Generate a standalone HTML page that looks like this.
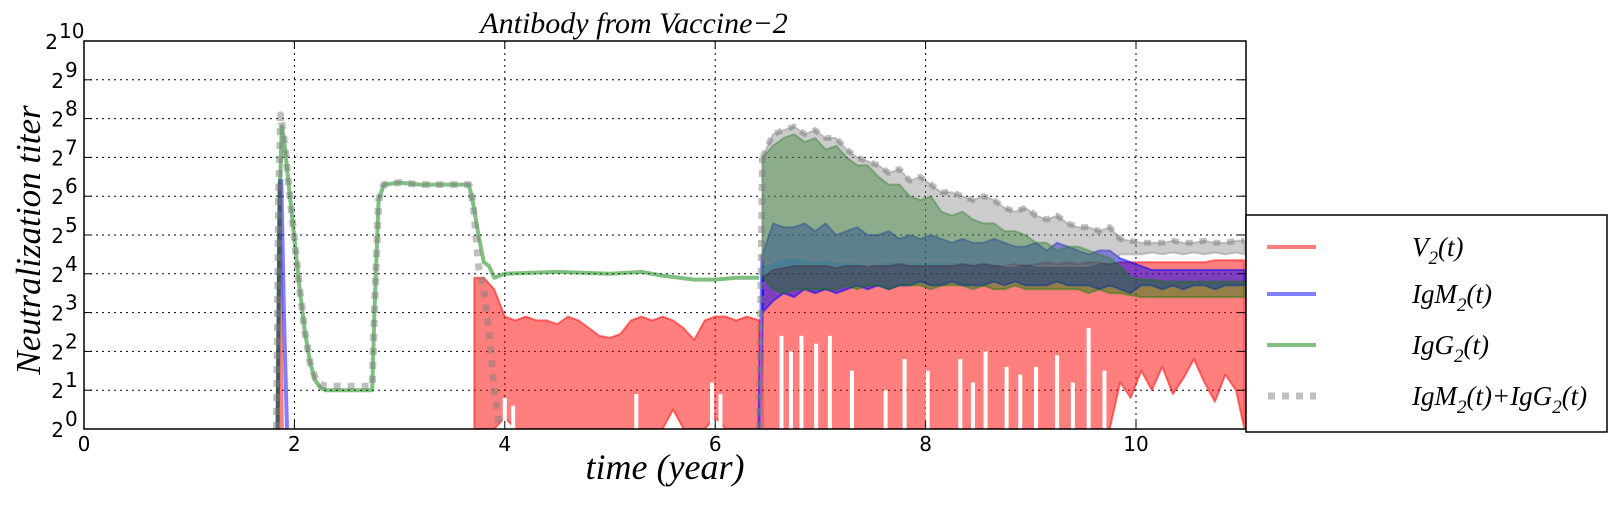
<!DOCTYPE html>
<html><head><meta charset="utf-8"><style>
body{margin:0;background:#fff}
svg text{font-family:"Liberation Serif",serif}
.tk{font-family:"DejaVu Sans","Liberation Sans",sans-serif;font-size:20px}
</style></head><body>
<svg id="chart" width="1612" height="505" viewBox="0 0 1612 505" xmlns="http://www.w3.org/2000/svg">
<defs><clipPath id="pc"><rect x="84" y="41" width="1162" height="388"/></clipPath></defs>
<rect x="0" y="0" width="1612" height="505" fill="#fff"/>
<g id="grid"></g>
<g id="marks" clip-path="url(#pc)"></g>
<rect x="84" y="41" width="1162" height="388" fill="none" stroke="#000" stroke-width="1.5"/>
<g id="ticks"></g>
<text x="634" y="33" text-anchor="middle" font-size="30" font-style="italic">Antibody from Vaccine−2</text>
<text x="665" y="479" text-anchor="middle" font-size="36" font-style="italic">time (year)</text>
<text transform="translate(40,240) rotate(-90)" text-anchor="middle" font-size="35" font-style="italic">Neutralization  titer</text>
<g>
<rect x="1246" y="215" width="361" height="217" fill="#fff" stroke="#000" stroke-width="1.5"/>
<line x1="1267" y1="247" x2="1316" y2="247" stroke="#ff0000" stroke-opacity="0.5" stroke-width="4"/>
<line x1="1267" y1="294" x2="1316" y2="294" stroke="#0000ff" stroke-opacity="0.5" stroke-width="4"/>
<line x1="1267" y1="345" x2="1316" y2="345" stroke="#008000" stroke-opacity="0.5" stroke-width="4"/>
<line x1="1268" y1="396" x2="1316" y2="396" stroke="#808080" stroke-opacity="0.5" stroke-width="7" stroke-dasharray="7,7"/>
<text x="1412" y="256" font-size="27" font-style="italic">V<tspan font-size="19" dy="8">2</tspan><tspan dy="-8">(t)</tspan></text>
<text x="1412" y="303" font-size="27" font-style="italic">IgM<tspan font-size="19" dy="8">2</tspan><tspan dy="-8">(t)</tspan></text>
<text x="1412" y="354" font-size="27" font-style="italic">IgG<tspan font-size="19" dy="8">2</tspan><tspan dy="-8">(t)</tspan></text>
<text x="1412" y="405" font-size="27" font-style="italic">IgM<tspan font-size="19" dy="8">2</tspan><tspan dy="-8">(t)+IgG</tspan><tspan font-size="19" dy="8">2</tspan><tspan dy="-8">(t)</tspan></text>
</g>
</svg>
<script>
const xTicks=[0,2,4,6,8,10];
const yTicks=[0,1,2,3,4,5,6,7,8,9,10];
// early smooth parts
const redSpikeT=[1.84,1.86,1.87,1.88];
const redSpikeV=[0,6.3,3,0];
const blueSpikeT=[1.84,1.86,1.875,1.9,1.93];
const blueSpikeV=[0,6.4,6.4,3,0];
const greenT=[1.84,1.86,1.88,1.9,1.95,2.0,2.05,2.1,2.15,2.2,2.25,2.3,2.5,2.74,2.76,2.8,2.85,3.0,3.2,3.5,3.66,3.7,3.75,3.8,3.85,3.9,4.0,4.5,5.0,5.3,5.5,5.8,6.0,6.2,6.42];
const greenV=[0,6,7.8,7.5,6.2,4.9,3.6,2.5,1.7,1.25,1.05,1.0,1.0,1.0,3.0,5.9,6.3,6.35,6.3,6.3,6.3,5.8,5.0,4.3,4.2,3.9,4.0,4.05,4.0,4.05,3.95,3.85,3.85,3.9,3.9];
const grayT=[1.83,1.85,1.87,1.9,1.95,2.0,2.05,2.1,2.15,2.2,2.25,2.3,2.5,2.74,2.76,2.8,2.85,3.0,3.2,3.5,3.66,3.7,3.75,3.8,3.85,3.9,3.95];
const grayV=[0,6,8.1,7.5,6.2,4.9,3.6,2.5,1.7,1.3,1.15,1.1,1.1,1.1,3.0,5.9,6.3,6.35,6.3,6.3,6.3,5.8,4.2,3.6,2.5,1.0,0];
// red band 1
const red1T=[3.71,3.8,3.9,4.0,4.1,4.2,4.3,4.4,4.5,4.6,4.7,4.8,4.9,5.0,5.1,5.2,5.3,5.4,5.5,5.6,5.7,5.8,5.9,6.0,6.1,6.2,6.3,6.42];
const red1Up=[3.9,3.9,3.6,2.9,2.8,2.9,2.8,2.8,2.7,2.9,2.8,2.6,2.4,2.35,2.45,2.8,2.9,2.8,2.9,2.8,2.6,2.3,2.8,2.9,2.9,2.8,2.9,2.8];
const red1Lo=[0,0,0,0.3,0,0,0,0,0,0,0,0,0,0,0,0,0,0,0,0.5,0,0,0,0.3,0,0,0,0];
// noisy period
const tN=[6.45,6.55,6.65,6.75,6.85,6.95,7.05,7.15,7.25,7.35,7.45,7.55,7.65,7.75,7.85,7.95,8.05,8.15,8.25,8.35,8.45,8.55,8.65,8.75,8.85,8.95,9.05,9.15,9.25,9.35,9.45,9.55,9.65,9.75,9.85,9.95,10.05,10.15,10.25,10.35,10.45,10.55,10.65,10.75,10.85,10.95,11.03];
const redUp=[3.9,4.1,4.15,4.2,4.2,4.2,4.2,4.15,4.2,4.2,4.2,4.2,4.2,4.25,4.2,4.2,4.2,4.2,4.2,4.25,4.2,4.25,4.2,4.2,4.25,4.2,4.25,4.3,4.25,4.3,4.25,4.3,4.3,4.25,4.3,4.3,4.3,4.3,4.3,4.3,4.3,4.3,4.3,4.35,4.35,4.35,4.35];
const redLo=[0,0,0,0,0,0,0,0,0,0,0,0,0,0,0,0,0,0,0,0,0,0,0,0,0,0,0,0,0,0,0,0,0,0,1.2,0.8,1.5,1.0,1.6,0.9,1.3,1.8,1.2,0.7,1.4,1.0,0];
const redGapT=[4.0,4.08,5.25,5.97,6.05,6.63,6.72,6.82,6.96,7.09,7.3,7.62,7.8,8.02,8.33,8.45,8.57,8.77,8.9,9.05,9.25,9.4,9.55,9.7];
const redGapTop=[0.8,0.6,0.9,1.2,0.9,2.4,2.0,2.4,2.2,2.4,1.5,1.0,1.8,1.5,1.8,1.2,2.0,1.6,1.4,1.6,1.9,1.2,2.6,1.5];
const blueUp=[4.5,5.3,5.2,5.2,5.3,5.1,5.3,5.0,5.1,5.2,5.0,5.0,5.1,4.9,5.0,4.9,5.0,4.9,4.8,4.9,4.8,4.8,4.9,4.8,4.7,4.7,4.8,4.6,4.8,4.7,4.6,4.5,4.6,4.6,4.4,4.3,4.2,4.1,4.1,4.1,4.1,4.1,4.1,4.1,4.1,4.1,4.1];
const blueLo=[3.0,3.3,3.5,3.4,3.6,3.5,3.6,3.5,3.6,3.7,3.6,3.7,3.6,3.7,3.7,3.8,3.7,3.7,3.8,3.7,3.7,3.7,3.8,3.7,3.8,3.7,3.7,3.7,3.8,3.7,3.7,3.7,3.6,3.7,3.6,3.5,3.7,3.7,3.6,3.7,3.6,3.7,3.7,3.6,3.7,3.7,3.7];
const greenUp=[7.0,7.3,7.5,7.6,7.4,7.5,7.2,7.3,7.0,6.8,6.8,6.5,6.3,6.3,6.0,5.9,6.0,5.6,5.5,5.6,5.4,5.3,5.3,5.1,5.1,5.0,4.8,4.8,4.6,4.7,4.7,4.6,4.5,4.4,4.2,3.9,3.85,3.85,3.8,3.8,3.8,3.8,3.8,3.8,3.8,3.8,3.8];
const greenLo=[3.9,3.6,3.5,3.6,3.6,3.6,3.6,3.6,3.7,3.6,3.7,3.7,3.6,3.7,3.7,3.7,3.6,3.7,3.7,3.7,3.6,3.7,3.6,3.6,3.7,3.6,3.6,3.6,3.6,3.6,3.6,3.5,3.6,3.5,3.5,3.45,3.4,3.4,3.4,3.4,3.4,3.4,3.4,3.4,3.4,3.4,3.4];
const grayUp=[7.0,7.6,7.7,7.8,7.6,7.7,7.5,7.5,7.2,7.0,6.9,6.8,6.6,6.7,6.4,6.5,6.3,6.1,6.1,6.0,5.9,6.0,5.9,5.7,5.6,5.7,5.5,5.4,5.5,5.3,5.2,5.2,5.1,5.2,4.9,4.85,4.8,4.8,4.8,4.85,4.8,4.8,4.85,4.8,4.8,4.85,4.85];
const grayLo=[4.2,4.3,4.4,4.4,4.4,4.3,4.4,4.3,4.3,4.3,4.2,4.3,4.3,4.3,4.3,4.3,4.3,4.3,4.3,4.3,4.3,4.3,4.3,4.2,4.2,4.3,4.2,4.2,4.2,4.2,4.2,4.2,4.3,4.3,4.5,4.5,4.5,4.55,4.5,4.55,4.5,4.55,4.5,4.55,4.5,4.55,4.5];

const NS='http://www.w3.org/2000/svg';
const X=t=>84+t*105.2;
const Y=v=>429-v*38.8;
function mk(tag,parent,attrs){const e=document.createElementNS(NS,tag);for(const k in attrs)e.setAttribute(k,attrs[k]);parent.appendChild(e);return e;}
const grid=document.getElementById('grid'),marks=document.getElementById('marks'),ticks=document.getElementById('ticks');

xTicks.forEach(t=>{
  if(t>0){const g=mk('line',grid,{x1:X(t),x2:X(t),y1:41,y2:429,stroke:'#000','stroke-width':1,'stroke-dasharray':'2,4'});
  
  }
  const tk=mk('line',ticks,{x1:X(t),x2:X(t),y1:429,y2:421,stroke:'#000'});
  
  
  const tk2=mk('line',ticks,{x1:X(t),x2:X(t),y1:41,y2:49,stroke:'#000'});
  
  
  const l=mk('text',ticks,{x:X(t),y:451,'text-anchor':'middle',class:'tk'});l.textContent=t;
  
  
});
yTicks.forEach(v=>{
  if(v>0&&v<10){const g=mk('line',grid,{x1:84,x2:1246,y1:Y(v),y2:Y(v),stroke:'#000','stroke-width':1,'stroke-dasharray':'2,4'});
  
  }
  const tk=mk('line',ticks,{x1:84,x2:92,y1:Y(v),y2:Y(v),stroke:'#000'});
  
  
  const tk2=mk('line',ticks,{x1:1238,x2:1246,y1:Y(v),y2:Y(v),stroke:'#000'});
  
  
  const l=mk('text',ticks,{x:v>=10?58:64,y:Y(v)+8,'text-anchor':'end',class:'tk'});
  l.textContent='2';
  
  
  const s=mk('text',ticks,{x:v>=10?59:65,y:Y(v)-3,class:'tk','font-size':'14'});s.textContent=v;
  
  
});
function line(ts,vs,color,w,name,dash){
  const d=ts.map((t,i)=>(i?'L':'M')+X(t).toFixed(1)+','+Y(vs[i]).toFixed(1)).join('');
  const a={d:d,fill:'none',stroke:color,'stroke-opacity':0.5,'stroke-width':w,'stroke-linejoin':'round'};
  if(dash)a['stroke-dasharray']=dash;
  const p=mk('path',marks,a);
  
  
}
function band(ts,up,lo,color,name,op){
  let d=ts.map((t,i)=>(i?'L':'M')+X(t).toFixed(1)+','+Y(up[i]).toFixed(1)).join('');
  for(let i=ts.length-1;i>=0;i--)d+='L'+X(ts[i]).toFixed(1)+','+Y(lo[i]).toFixed(1);
  const p=mk('path',marks,{d:d+'Z',fill:color,'fill-opacity':op||0.5,stroke:color,'stroke-opacity':op||0.5,'stroke-width':2,'stroke-linejoin':'round'});
  
  
}
// red
line(redSpikeT,redSpikeV,'#ff0000',4,'v2-spike');
band(red1T,red1Up,red1Lo,'#ff0000','v2-band-early');
band(tN,redUp,redLo,'#ff0000','v2-band-late');
redGapT.forEach((t,i)=>{
  const g=mk('line',marks,{x1:X(t),x2:X(t),y1:Y(0)+2,y2:Y(redGapTop[i]),stroke:'#fff','stroke-width':4});
  
  
});
// blue
line(blueSpikeT,blueSpikeV,'#0000ff',4,'igm2-spike');
line([6.42,tN[0]],[0,blueUp[0]],'#0000ff',4,'igm2-rise');
band(tN,blueUp,blueLo,'#0000ff','igm2-band');
// green
line(greenT,greenV,'#008000',4,'igg2-line');
band(tN,greenUp,greenLo,'#008000','igg2-band',0.42);
// gray
line(grayT,grayV,'#808080',7,'sum-line','7,7');
line([6.42,tN[0]],[0,grayUp[0]],'#808080',7,'sum-rise','7,7');
band(tN,grayUp,grayLo,'#808080','sum-band',0.4);
line(tN,grayUp,'#808080',6,'sum-upper-edge','7,7');
</script>
</body></html>
